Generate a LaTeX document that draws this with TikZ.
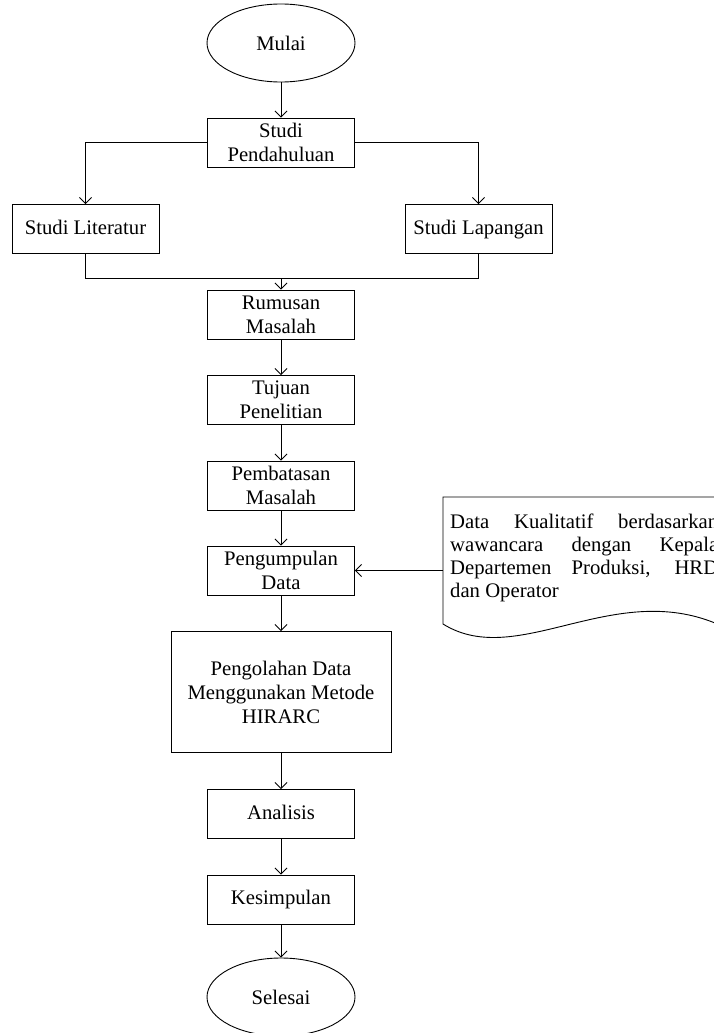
\documentclass[tikz,border=0pt]{standalone}
\usepackage{fontspec}
\setmainfont{Liberation Serif}
\usetikzlibrary{shapes.geometric,arrows.meta}

\tikzset{
  box/.style={draw, rectangle, line width=0.9pt, minimum width=147pt,
    minimum height=49pt, inner sep=0pt, align=center},
  oneline/.style={text height=14.5pt, text depth=4.5pt},
  terminal/.style={draw, ellipse, line width=0.9pt, minimum width=148pt,
    minimum height=78pt, inner sep=0pt},
  arrow/.style={line width=0.9pt, -{Straight Barb[length=6pt,width=12pt]}},
  line/.style={line width=0.9pt}
}

\begin{document}
\begin{tikzpicture}[x=1pt, y=-1pt, font=\fontsize{20.7}{24}\selectfont]

  \useasboundingbox (0,0) rectangle (713,1033);

  % Column x of the main flow
  \def\cx{281}

  % Start and preliminary studies
  \node[terminal] (mulai) at (\cx,43) {Mulai};
  \node[box] (pendahuluan) at (\cx,142.5) {Studi\\Pendahuluan};
  \node[box, oneline] (literatur) at (85.5,229) {Studi Literatur};
  \node[box, oneline] (lapangan) at (478.5,229) {Studi Lapangan};

  % Main steps
  \node[box] (rumusan) at (\cx,314.5) {Rumusan\\Masalah};
  \node[box] (tujuan) at (\cx,400) {Tujuan\\Penelitian};
  \node[box] (pembatasan) at (\cx,485.5) {Pembatasan\\Masalah};
  \node[box] (pengumpulan) at (\cx,570.5) {Pengumpulan\\Data};
  \node[box, minimum width=220pt, minimum height=121pt] (pengolahan) at (\cx,692)
    {Pengolahan Data\\Menggunakan Metode\\HIRARC};
  \node[box, oneline] (analisis) at (\cx,814) {Analisis};
  \node[box, oneline] (kesimpulan) at (\cx,899.5) {Kesimpulan};
  \node[terminal] (selesai) at (\cx,997) {Selesai};

  % Document with the data source
  \draw[line] (730,497) -- (443,497) -- (443,624)
    .. controls (520,672) and (620,572) .. (730,630);
  \node[anchor=north west, text width=268pt, align=justify, inner sep=0pt,
    font=\fontsize{20.7}{23}\selectfont] (kualitatif) at (450,514)
    {Data Kualitatif berdasarkan\linebreak wawancara dengan Kepala\linebreak
     Departemen Produksi, HRD\linebreak dan Operator};
  \coordinate (docin) at (443,570.5);

  % Branch and merge
  \draw[arrow] (pendahuluan.west) -| (literatur.north);
  \draw[arrow] (pendahuluan.east) -| (lapangan.north);
  \coordinate (gabung) at (\cx,278);
  \draw[line] (literatur.south) |- (gabung);
  \draw[line] (lapangan.south) |- (gabung);
  \draw[arrow] (gabung) -- (rumusan.north);

  % Straight arrows down the column
  \foreach \a/\b in {mulai/pendahuluan, rumusan/tujuan, tujuan/pembatasan,
      pembatasan/pengumpulan, pengumpulan/pengolahan, pengolahan/analisis,
      analisis/kesimpulan, kesimpulan/selesai}
    \draw[arrow] (\a.south) -- (\b.north);

  \draw[arrow] (docin) -- (pengumpulan.east);

\end{tikzpicture}
\end{document}
